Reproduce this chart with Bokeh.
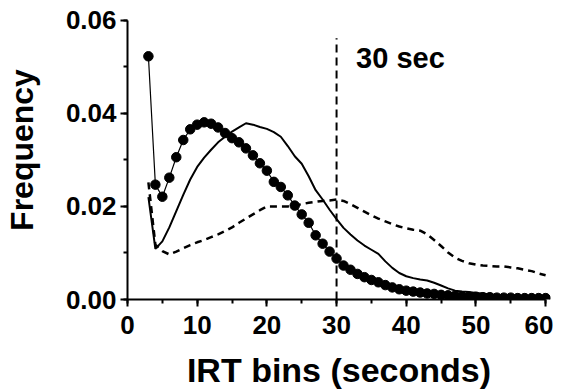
from bokeh.plotting import figure
from bokeh.models import Range1d, SingleIntervalTicker, PrintfTickFormatter, Label, ColumnDataSource
from bokeh.embed import file_html
from bokeh.resources import INLINE

# ---- data ----
irt_bins = list(range(3, 61))

series_dots = [0.0523, 0.0247, 0.0221, 0.0262, 0.0306, 0.0343, 0.0366, 0.0376, 0.0381, 0.0378,
               0.0370, 0.0358, 0.0347, 0.0338, 0.0325, 0.0310, 0.0293, 0.0277, 0.0253, 0.0242,
               0.0224, 0.0202, 0.0183, 0.0165, 0.0138, 0.0120, 0.0103, 0.0088, 0.0073, 0.0064,
               0.0055, 0.0048, 0.0042, 0.0037, 0.0031, 0.0026, 0.0022, 0.0019, 0.0017, 0.0015,
               0.0013, 0.0012, 0.0010, 0.0009, 0.0008, 0.0007, 0.0006, 0.0006, 0.0005, 0.0005,
               0.0004, 0.0004, 0.0004, 0.0003, 0.0003, 0.0003, 0.0003, 0.0003]

series_solid = [0.0220, 0.0109, 0.0125, 0.0155, 0.0190, 0.0225, 0.0258, 0.0285, 0.0305, 0.0322,
                0.0338, 0.0350, 0.0361, 0.0370, 0.0379, 0.0376, 0.0371, 0.0367, 0.0360, 0.0350,
                0.0330, 0.0308, 0.0292, 0.0265, 0.0235, 0.0215, 0.0193, 0.0173, 0.0154, 0.0140,
                0.0127, 0.0116, 0.0107, 0.0098, 0.0082, 0.0068, 0.0057, 0.0050, 0.0046, 0.0043,
                0.0041, 0.0036, 0.0030, 0.0024, 0.0019, 0.0017, 0.0016, 0.0014, 0.0013, 0.0011,
                0.0010, 0.0009, 0.0009, 0.0008, 0.0007, 0.0006, 0.0005, 0.0004]

series_dashed = [0.0252, 0.0118, 0.0104, 0.0097, 0.0103, 0.0110, 0.0117, 0.0123, 0.0128, 0.0134,
                 0.0140, 0.0147, 0.0155, 0.0165, 0.0174, 0.0183, 0.0192, 0.0200, 0.0200, 0.0200,
                 0.0200, 0.0202, 0.0205, 0.0208, 0.0210, 0.0212, 0.0213, 0.0215, 0.0212, 0.0205,
                 0.0197, 0.0189, 0.0181, 0.0174, 0.0168, 0.0162, 0.0157, 0.0153, 0.0150, 0.0148,
                 0.0140, 0.0128, 0.0115, 0.0101, 0.0090, 0.0083, 0.0078, 0.0075, 0.0073, 0.0072,
                 0.0071, 0.0071, 0.0069, 0.0067, 0.0064, 0.0061, 0.0056, 0.0052]

cutoff_x = [30]
cutoff_y0 = [0.0]
cutoff_y1 = [0.0562]
cutoff_label = "30 sec"
cutoff_label_x = 32.8
cutoff_label_y = 0.0519

x_title = "IRT bins (seconds)"
y_title = "Frequency"

FONT = "Liberation Sans"

p = figure(width=553, height=392, output_backend="svg", toolbar_location=None,
           x_range=Range1d(0, 60.7), y_range=Range1d(0, 0.0643),
           min_border_left=126, min_border_right=3, min_border_top=0, min_border_bottom=93)
p.outline_line_color = None
p.xgrid.visible = False
p.ygrid.visible = False
p.background_fill_color = "white"
p.border_fill_color = "white"

src = ColumnDataSource(dict(x=irt_bins, dots=series_dots, solid=series_solid, dashed=series_dashed))

p.line("x", "dashed", source=src, line_color="black", line_width=2.5, line_dash="7 5")
p.line("x", "solid", source=src, line_color="black", line_width=2)
p.line("x", "dots", source=src, line_color="black", line_width=1.2)
p.scatter("x", "dots", source=src, marker="circle", size=9.5, fill_color="black", line_color="black")

p.segment(x0=cutoff_x, y0=cutoff_y0, x1=cutoff_x, y1=cutoff_y1, line_color="black",
          line_width=2, line_dash="8 5")

p.add_layout(Label(x=cutoff_label_x, y=cutoff_label_y, text=cutoff_label, text_font=FONT,
                   text_font_style="bold", text_font_size="29px", text_baseline="alphabetic",
                   text_color="black"))

for ax in (p.xaxis[0], p.yaxis[0]):
    ax.axis_line_width = 2
    ax.axis_line_color = "black"
    ax.major_tick_line_width = 2
    ax.minor_tick_line_width = 2
    ax.major_tick_out = 7
    ax.major_tick_in = 0
    ax.minor_tick_out = 4
    ax.minor_tick_in = 0
    ax.major_label_text_font = FONT
    ax.major_label_text_font_style = "bold"
    ax.major_label_text_font_size = "26px"
    ax.major_label_text_color = "black"
    ax.axis_label_text_font = FONT
    ax.axis_label_text_font_style = "bold"
    ax.axis_label_text_color = "black"

p.xaxis[0].ticker = SingleIntervalTicker(interval=10, num_minor_ticks=2)
p.xaxis[0].bounds = (0, 60)
p.xaxis[0].axis_label = x_title
p.xaxis[0].axis_label_text_font_size = "34px"
p.xaxis[0].major_label_standoff = 9
p.xaxis[0].axis_label_standoff = 14

p.yaxis[0].ticker = SingleIntervalTicker(interval=0.02, num_minor_ticks=2)
p.yaxis[0].bounds = (0, 0.06)
p.yaxis[0].formatter = PrintfTickFormatter(format="%.2f")
p.yaxis[0].axis_label = y_title
p.yaxis[0].axis_label_text_font_size = "32px"
p.yaxis[0].major_label_standoff = 4
p.yaxis[0].axis_label_standoff = 23

open("out.html", "w").write(file_html(p, INLINE))
